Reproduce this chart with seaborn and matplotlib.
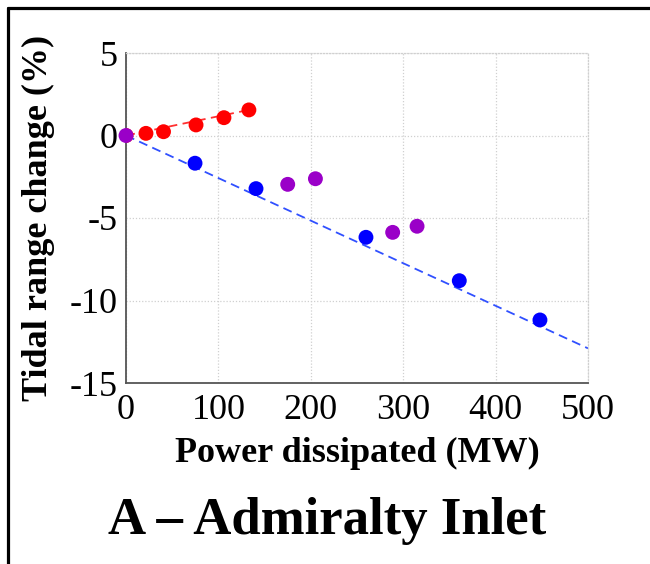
import matplotlib
matplotlib.use("Agg")
import matplotlib.pyplot as plt
from matplotlib.lines import Line2D
import seaborn as sns

# ---- data ----
red_x = [0, 21.6, 40.6, 75.8, 106, 133]
red_y = [0, 0.13, 0.23, 0.64, 1.08, 1.55]

blue_x = [74.7, 140.7, 259.7, 360.7, 448]
blue_y = [-1.68, -3.22, -6.17, -8.8, -11.18]

purple_x = [0, 175, 205, 288.6, 315]
purple_y = [0, -2.96, -2.62, -5.87, -5.5]

red_fit_x = [0, 133]
red_fit_y = [0, 1.55]
blue_fit_x = [0, 500]
blue_fit_y = [0, -12.9]

x_ticks = [0, 100, 200, 300, 400, 500]
y_ticks = [5, 0, -5, -10, -15]
x_label = "Power dissipated (MW)"
y_label = "Tidal range change (%)"
title = "A \u2013 Admiralty Inlet"

sns.set_theme(style="white")
plt.rcParams["font.family"] = ["Liberation Serif", "DejaVu Serif"]

fig = plt.figure(figsize=(6.5, 5.64), dpi=100)
ax = fig.add_axes([126 / 650, 1 - 383 / 564, 462 / 650, 330 / 564])

# fit lines
sns.lineplot(x=red_fit_x, y=red_fit_y, ax=ax, color="#ff3030", lw=1.3,
             linestyle=(0, (5, 3)), zorder=2)
sns.lineplot(x=blue_fit_x, y=blue_fit_y, ax=ax, color="#3050ff", lw=1.3,
             linestyle=(0, (5, 3)), zorder=2)

ms = 115
sns.scatterplot(x=red_x, y=red_y, ax=ax, color="#ff0000", s=ms,
                edgecolor="none", zorder=3)
sns.scatterplot(x=blue_x, y=blue_y, ax=ax, color="#0000ff", s=ms,
                edgecolor="none", zorder=3)
sns.scatterplot(x=purple_x, y=purple_y, ax=ax, color="#9a00c8", s=ms,
                edgecolor="none", zorder=4, clip_on=False)

ax.set_xlim(0, 500)
ax.set_ylim(-15, 5)
ax.set_xticks(x_ticks)
ax.set_yticks(y_ticks)
ax.set_xticklabels([str(v) for v in x_ticks])
ax.set_yticklabels([str(v) for v in y_ticks])

ax.grid(True, color="#d0d0d0", linestyle=(0, (1, 1.5)), lw=0.9)
ax.set_axisbelow(True)
for side in ["top", "right"]:
    ax.spines[side].set_color("#d0d0d0")
    ax.spines[side].set_linestyle((0, (1, 1.5)))
    ax.spines[side].set_linewidth(0.9)
for side in ["left", "bottom"]:
    ax.spines[side].set_color("#555555")
    ax.spines[side].set_linewidth(1.3)

ax.tick_params(axis="both", direction="in", length=4, width=1,
               color="#555555", labelsize=26, labelcolor="black")
ax.tick_params(axis="x", pad=8)
ax.tick_params(axis="y", pad=6)

ax.set_xlabel(x_label, fontsize=26, fontweight="bold", color="black")
ax.set_ylabel(y_label, fontsize=26, fontweight="bold", color="black")
ax.xaxis.set_label_coords(0.5, -0.215)
ax.xaxis.label.set_va("center")
ax.yaxis.set_label_coords(-0.19, 0.5)
ax.yaxis.label.set_va("center")

fig.text(0.504, 1 - 521 / 564, title, fontsize=38, fontweight="bold",
         ha="center", va="center", color="black")

# outer frame (top and left)
fig.add_artist(Line2D([8 / 650, 1.0], [1 - 8 / 564, 1 - 8 / 564],
                      transform=fig.transFigure, color="black", lw=2.3))
fig.add_artist(Line2D([8 / 650, 8 / 650], [0, 1 - 8 / 564],
                      transform=fig.transFigure, color="black", lw=2.3))

fig.savefig("out.png", dpi=100)
